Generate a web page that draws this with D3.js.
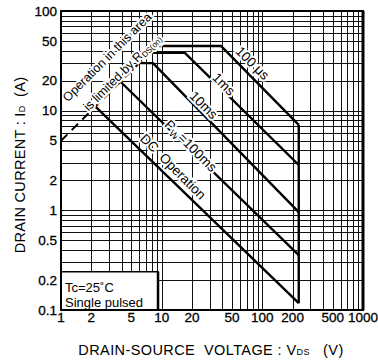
<!DOCTYPE html>
<html>
<head>
<meta charset="utf-8">
<script src="https://cdn.jsdelivr.net/npm/d3@7.9.0/dist/d3.min.js"></script>
<style>
  body { margin: 0; background: #fff; }
  svg { display: block; font-family: 'Liberation Sans', Arial, sans-serif; }
  .title { white-space: pre; }
</style>
</head>
<body>
<svg id="chart" width="378" height="362"></svg>
<script>
// safe operating area
const xTicks = [1, 2, 5, 10, 20, 50, 100, 200, 500, 1000];
const yTicks = [0.1, 0.2, 0.5, 1, 2, 5, 10, 20, 50, 100];

// [V_DS (V), I_D (A)]
const pulse100us = [[8.9, 44.5], [39, 44.5], [230, 7.2]];
const pulse1ms = [[7.6, 38], [17, 38], [230, 2.85]];
const pulse10ms = [[6, 30], [8.2, 30], [230, 0.96]];
const pulse100ms = [[3.9, 19.5], [230, 0.356]];
const dcOperation = [[2.2, 11], [230, 0.117]];
const ronLimit = [[1, 5], [8.9, 44.5]];
const vdssLimit = [[230, 7.2], [230, 0.117]];

const curveLabels = ['100 \u03bcs', '1ms', '10ms', 'PW=100ms', 'DC  Operation'];
const curveLabelAt = [[80, 30], [41.5, 18.5], [26.2, 11.4], [19.5, 4.45], [13, 2.75]];

const margin = { top: 11, right: 15, bottom: 52, left: 61 };
const width = 378 - margin.left - margin.right;
const height = 362 - margin.top - margin.bottom;

let svg = d3.select('#chart');
let g = svg.append('g').attr('transform', `translate(${margin.left},${margin.top})`);

let x = d3.scaleLog().domain([1, 1000]).range([0, width]);
let y = d3.scaleLog().domain([0.1, 100]).range([height, 0]);

// full log grid, minor lines included
let xGrid = [];
let yGrid = [];
for (let d = 1; d < 1000; d *= 10) {
  for (let k = 1; k < 10; k++) xGrid.push(d * k);
}
for (let d = 0.1; d < 99; d *= 10) {
  for (let k = 1; k < 10; k++) yGrid.push(+(d * k).toPrecision(3));
}

g.append('g')
  .selectAll('line')
  .data(xGrid)
  .join('line')
  .attr('x1', (d) => Math.round(x(d)) + 0.5)
  .attr('x2', (d) => Math.round(x(d)) + 0.5)
  .attr('y1', 0)
  .attr('y2', height)
  .attr('stroke', '#111')
  .attr('stroke-width', 1);

g.append('g')
  .selectAll('line')
  .data(yGrid)
  .join('line')
  .attr('y1', (d) => Math.round(y(d)) + 0.5)
  .attr('y2', (d) => Math.round(y(d)) + 0.5)
  .attr('x1', 0)
  .attr('x2', width)
  .attr('stroke', '#111')
  .attr('stroke-width', 1);

let line = d3.line().x((d) => x(d[0])).y((d) => y(d[1]));

// R_DS(on) limit, dashed
g.append('path')
  .attr('d', line(ronLimit))
  .attr('fill', 'none')
  .attr('stroke', '#000')
  .attr('stroke-width', 2)
  .attr('stroke-dasharray', '9,6');

[pulse100us, pulse1ms, pulse10ms, pulse100ms, dcOperation, vdssLimit].forEach((pts) => {
  g.append('path')
    .attr('d', line(pts))
    .attr('fill', 'none')
    .attr('stroke', '#000')
    .attr('stroke-width', 2.4)
    .attr('stroke-linejoin', 'round');
});

// curve labels, rotated along the diagonals
curveLabels.forEach((t, i) => {
  let px = x(curveLabelAt[i][0]);
  let py = y(curveLabelAt[i][1]);
  let txt = g.append('text')
    .attr('class', 'title')
    .attr('transform', `translate(${px},${py}) rotate(45)`)
    .attr('text-anchor', 'middle')
    .attr('dy', '0.35em')
    .attr('font-size', 13.5)
    .attr('stroke', '#fff')
    .attr('stroke-width', 4)
    .attr('paint-order', 'stroke')
    .attr('fill', '#000');
  if (t.startsWith('PW')) {
    txt.append('tspan').text('P');
    txt.append('tspan').attr('font-size', 10).attr('dy', '3').text('W');
    txt.append('tspan').attr('dy', '-3').text('=100ms');
  } else {
    txt.text(t);
  }
});

// R_DS(on) note
g.append('text')
  .attr('transform', `translate(${x(2.86)},${y(34.5)}) rotate(-45)`)
  .attr('text-anchor', 'middle')
  .attr('dy', '0.35em')
  .attr('font-size', 12.5)
  .attr('stroke', '#fff')
  .attr('stroke-width', 4)
  .attr('paint-order', 'stroke')
  .text('Operation in this area');

let note2 = g.append('text')
  .attr('transform', `translate(${x(4.03)},${y(24.4)}) rotate(-45)`)
  .attr('text-anchor', 'middle')
  .attr('dy', '0.35em')
  .attr('font-size', 12.5)
  .attr('stroke', '#fff')
  .attr('stroke-width', 4)
  .attr('paint-order', 'stroke');
note2.append('tspan').text('is limited by R');
note2.append('tspan').attr('font-size', 8).attr('dy', 2).text('DS(on)');

// condition box
let bx = x(9.2);
let by = y(0.242);
g.append('rect')
  .attr('x', 0)
  .attr('y', by)
  .attr('width', bx)
  .attr('height', height - by)
  .attr('fill', '#fff')
  .attr('stroke', '#000')
  .attr('stroke-width', 1.5);
g.append('line')
  .attr('x1', bx).attr('x2', bx)
  .attr('y1', by).attr('y2', height)
  .attr('stroke', '#000').attr('stroke-width', 2.5);
g.append('text')
  .attr('x', 4).attr('y', by + 20)
  .attr('font-size', 13)
  .text('Tc=25\u02daC');
g.append('text')
  .attr('x', 4).attr('y', by + 35)
  .attr('font-size', 13)
  .text('Single pulsed');

// frame
g.append('rect')
  .attr('width', width)
  .attr('height', height)
  .attr('fill', 'none')
  .attr('stroke', '#000')
  .attr('stroke-width', 2);
g.append('line')
  .attr('x1', width).attr('x2', width)
  .attr('y1', 0).attr('y2', height)
  .attr('stroke', '#000').attr('stroke-width', 3);

// tick labels
g.append('g')
  .selectAll('text')
  .data(xTicks)
  .join('text')
  .attr('x', (d) => x(d))
  .attr('y', height + 12)
  .attr('text-anchor', 'middle')
  .attr('font-size', 13.5)
  .attr('stroke', '#000')
  .attr('stroke-width', 0.3)
  .text((d) => d);

g.append('g')
  .selectAll('text')
  .data(yTicks)
  .join('text')
  .attr('x', -4)
  .attr('y', (d) => y(d))
  .attr('dy', '0.35em')
  .attr('text-anchor', 'end')
  .attr('font-size', 13.5)
  .attr('stroke', '#000')
  .attr('stroke-width', 0.3)
  .text((d) => d);

// axis titles
let xt = svg.append('text')
  .attr('class', 'title')
  .attr('x', 211)
  .attr('y', 355)
  .attr('text-anchor', 'middle')
  .attr('font-size', 14.5)
  .attr('letter-spacing', 0.4);
xt.append('tspan').text('DRAIN-SOURCE  VOLTAGE : V');
xt.append('tspan').attr('font-size', 9).text('DS');
xt.append('tspan').text('   (V)');

let yt = svg.append('text')
  .attr('class', 'title')
  .attr('transform', 'translate(25,165) rotate(-90)')
  .attr('text-anchor', 'middle')
  .attr('font-size', 14.5)
  .attr('letter-spacing', 0.3);
yt.append('tspan').text('DRAIN CURRENT : I');
yt.append('tspan').attr('font-size', 9).text('D');
yt.append('tspan').text('  (A)');
</script>
</body>
</html>
